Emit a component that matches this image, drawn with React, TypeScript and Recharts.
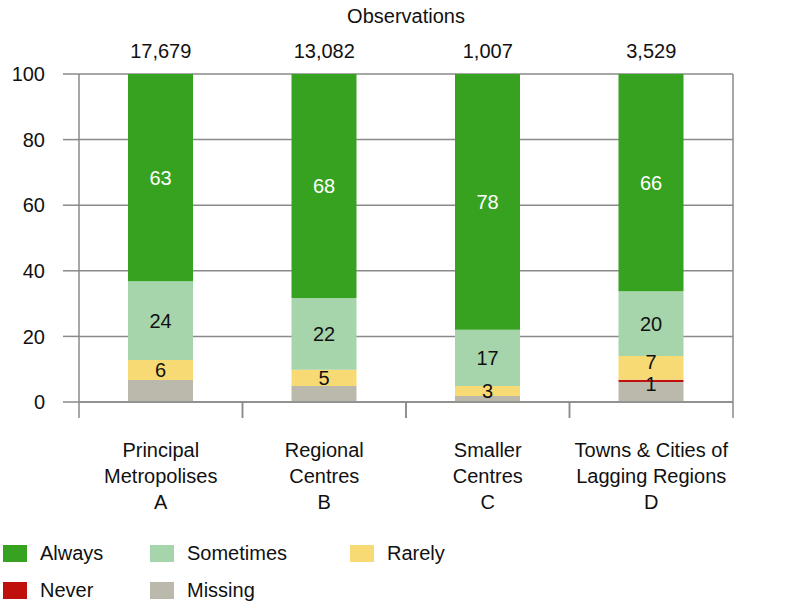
import React from 'react';
import { BarChart, Bar, XAxis, YAxis, CartesianGrid, LabelList, Legend } from 'recharts';

const categoryLines: string[][] = [
  ['Principal', 'Metropolises', 'A'],
  ['Regional', 'Centres', 'B'],
  ['Smaller', 'Centres', 'C'],
  ['Towns & Cities of', 'Lagging Regions', 'D'],
];
const observations = ['17,679', '13,082', '1,007', '3,529'];
const missing = [6.7, 4.9, 1.8, 6.1];
const never = [0, 0, 0, 0.7];
const rarely = [6.1, 4.9, 3.1, 7.2];
const sometimes = [24.0, 21.9, 17.1, 19.8];
const always = [63.2, 68.3, 78.0, 66.2];
const yTicks = [0, 20, 40, 60, 80, 100];

const data = categoryLines.map((lines, i) => ({
  name: lines.join('|'),
  obs: observations[i],
  missing: missing[i],
  never: never[i],
  rarely: rarely[i],
  sometimes: sometimes[i],
  always: always[i],
}));

const FONT = '"Liberation Sans", Arial, sans-serif';
const GRID = '#8a8a8a';

const series = [
  { key: 'missing', name: 'Missing', color: '#BBB9AC', label: false, labelColor: '#111' },
  { key: 'never', name: 'Never', color: '#C0100E', label: true, labelColor: '#111' },
  { key: 'rarely', name: 'Rarely', color: '#F8DA74', label: true, labelColor: '#111' },
  { key: 'sometimes', name: 'Sometimes', color: '#A6D4AB', label: true, labelColor: '#111' },
  { key: 'always', name: 'Always', color: '#37A21F', label: true, labelColor: '#fff' },
];

const legendOrder = [
  ['always', 'sometimes', 'rarely'],
  ['never', 'missing'],
];
const legendCols = [3, 150, 350];

const CategoryTick = (props: any) => {
  const { x, y, payload } = props;
  const lines = String(payload.value).split('|');
  const half = payload && typeof payload.offset === 'number' ? payload.offset : 0;
  const top = y - 8;
  return (
    <g>
      {half > 0 && (
        <>
          <line x1={x - half} x2={x - half} y1={top} y2={top + 16} stroke={GRID} strokeWidth={1.5} />
          <line x1={x + half} x2={x + half} y1={top} y2={top + 16} stroke={GRID} strokeWidth={1.5} />
        </>
      )}
      <text x={x} y={y} textAnchor="middle" fontFamily={FONT} fontSize={20} fill="#111">
        {lines.map((l, i) => (
          <tspan key={i} x={x} dy={i === 0 ? 47 : 26}>
            {l}
          </tspan>
        ))}
      </text>
    </g>
  );
};

const makeSegmentLabel = (color: string, key: string) => (props: any) => {
  const { x, y, width, height, value, index } = props;
  if (!(value > 0)) return null;
  let shift = 0;
  if (key === 'rarely' && never[index] > 0) shift = -6;
  if (key === 'never') shift = 3;
  return (
    <text
      x={x + width / 2}
      y={y + height / 2 + shift}
      textAnchor="middle"
      dominantBaseline="central"
      fontFamily={FONT}
      fontSize={20}
      fill={color}
    >
      {Math.round(value)}
    </text>
  );
};

const LegendContent = () => (
  <div style={{ position: 'relative', width: 798, height: 70, fontFamily: FONT, fontSize: 20, color: '#111' }}>
    {legendOrder.map((row, r) =>
      row.map((k, c) => {
        const s = series.find((q) => q.key === k)!;
        return (
          <div
            key={k}
            style={{
              position: 'absolute',
              left: legendCols[c],
              top: r * 37,
              display: 'flex',
              alignItems: 'center',
              height: 24,
            }}
          >
            <span style={{ display: 'inline-block', width: 24, height: 17, background: s.color, marginRight: 13 }} />
            <span>{s.name}</span>
          </div>
        );
      })
    )}
  </div>
);

export default function App() {
  return (
    <div style={{ position: 'absolute', left: 0, top: 0, width: 798, height: 603, background: '#fff' }}>
      <BarChart
        width={798}
        height={603}
        data={data}
        margin={{ top: 0, right: 0, bottom: 9, left: 0 }}
        barSize={65}
      >
        <CartesianGrid horizontal vertical={false} stroke={GRID} strokeWidth={1.5} yAxisId="left" xAxisId="cat" />
        <XAxis
          xAxisId="top"
          orientation="top"
          dataKey="obs"
          height={74}
          axisLine={false}
          tickLine={false}
          tickSize={6}
          tickMargin={10}
          tick={{ fontFamily: FONT, fontSize: 20, fill: '#111' }}
          label={{ value: 'Observations', position: 'insideTop', offset: 9, fontFamily: FONT, fontSize: 20, fill: '#111' }}
        />
        <XAxis
          xAxisId="cat"
          dataKey="name"
          height={122}
          interval={0}
          axisLine={{ stroke: GRID, strokeWidth: 1.5 }}
          tickLine={false}
          tick={<CategoryTick />}
        />
        <YAxis
          yAxisId="left"
          domain={[0, 100]}
          ticks={yTicks}
          width={79}
          axisLine={{ stroke: GRID, strokeWidth: 1.5 }}
          tickLine={{ stroke: GRID, strokeWidth: 1.5 }}
          tickSize={16}
          tickMargin={18}
          tick={{ fontFamily: FONT, fontSize: 20, fill: '#111' }}
        />
        <YAxis
          yAxisId="right"
          orientation="right"
          domain={[0, 100]}
          ticks={yTicks}
          width={65}
          axisLine={{ stroke: GRID, strokeWidth: 1.5 }}
          tickLine={{ stroke: GRID, strokeWidth: 1.5 }}
          tickSize={16}
          tickMargin={10}
          tick={{ fontFamily: FONT, fontSize: 20, fill: '#111' }}
        />
        {series.map((s) => (
          <Bar
            key={s.key}
            dataKey={s.key}
            name={s.name}
            stackId="a"
            xAxisId="cat"
            yAxisId="left"
            fill={s.color}
            isAnimationActive={false}
          >
            {s.label && (
              <LabelList dataKey={s.key} position="center" content={makeSegmentLabel(s.labelColor, s.key)} />
            )}
          </Bar>
        ))}
        <Legend
          content={<LegendContent />}
          wrapperStyle={{ position: 'absolute', left: 0, top: 541, width: 798 }}
        />
      </BarChart>
    </div>
  );
}
